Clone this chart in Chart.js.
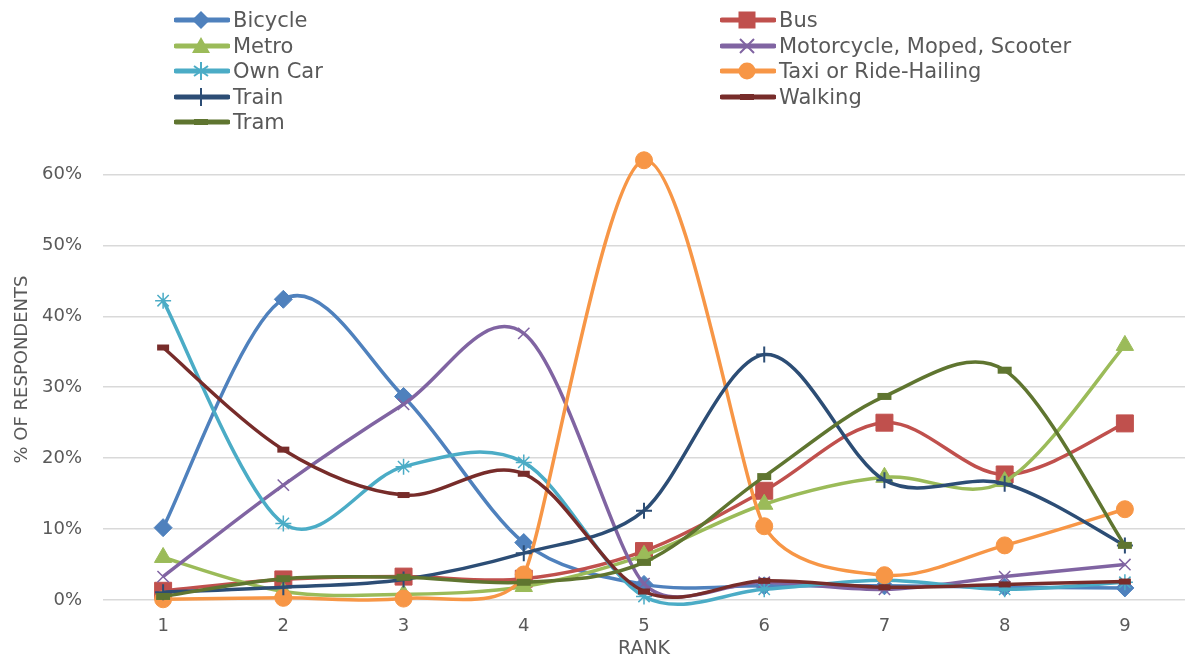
<!DOCTYPE html>
<html>
<head>
<meta charset="utf-8">
<script src="https://cdn.jsdelivr.net/npm/chart.js@4/dist/chart.umd.min.js"></script>
<style>
  html, body { margin: 0; padding: 0; background: #ffffff; overflow: hidden; }
  #wrap { position: relative; width: 1185px; height: 661px; }
  #legend { position: absolute; left: 0; top: 0; width: 1185px; height: 135px;
            font-family: "DejaVu Sans", sans-serif; font-size: 21px; color: #595959; }
  .item { position: absolute; height: 26px; display: flex; align-items: center; white-space: nowrap; }
  .item svg { display: block; margin-right: 3px; }
</style>
</head>
<body>
<div id="wrap">
  <canvas id="chart" width="1185" height="661"></canvas>
  <div id="legend"></div>
</div>
<script>
// Rank positions on the x axis
const ranks = ['1', '2', '3', '4', '5', '6', '7', '8', '9'];

// Share of respondents (%) giving each rank to each mode
const bicycle    = [10.2, 42.4, 28.7,  8.1,  2.2,  2.0,  2.0,  1.8,  1.7];
const bus        = [ 1.3,  2.9,  3.3,  3.0,  6.9, 15.4, 25.0, 17.7, 24.9];
const metro      = [ 6.0,  1.2,  0.8,  1.9,  6.3, 13.5, 17.3, 16.7, 35.9];
const motorcycle = [ 3.3, 16.2, 27.6, 37.6,  2.3,  2.5,  1.5,  3.3,  5.0];
const ownCar     = [42.2, 10.8, 18.8, 19.4,  0.5,  1.5,  2.8,  1.5,  2.5];
const taxi       = [ 0.1,  0.3,  0.2,  3.6, 62.0, 10.4,  3.5,  7.7, 12.8];
const train      = [ 1.1,  1.8,  2.9,  6.6, 12.6, 34.6, 16.9, 16.4,  7.7];
const walking    = [35.6, 21.2, 14.8, 17.8,  1.2,  2.7,  1.8,  2.2,  2.6];
const tram       = [ 0.5,  3.0,  3.2,  2.5,  5.3, 17.4, 28.7, 32.4,  7.7];

// Value axis ticks (%)
const yTicks = [0, 10, 20, 30, 40, 50, 60];

const TEXT = '#595959';
const FONT = '"DejaVu Sans", sans-serif';

const series = [
  { label: 'Bicycle', data: bicycle, color: '#4F81BD', shape: 'rectRot', r: 9, bw: 1 },
  { label: 'Bus', data: bus, color: '#C0504D', shape: 'rect', r: 12, bw: 1 },
  { label: 'Metro', data: metro, color: '#9BBB59', shape: 'triangle', r: 10, bw: 1 },
  { label: 'Motorcycle, Moped, Scooter', data: motorcycle, color: '#8064A2', shape: 'crossRot', r: 8, bw: 1.5 },
  { label: 'Own Car', data: ownCar, color: '#4BACC6', shape: 'star', r: 8, bw: 1.5 },
  { label: 'Taxi or Ride-Hailing', data: taxi, color: '#F79646', shape: 'circle', r: 8.5, bw: 1 },
  { label: 'Train', data: train, color: '#2C4D75', shape: 'cross', r: 8, bw: 2 },
  { label: 'Walking', data: walking, color: '#772C2A', shape: 'line', r: 6, bw: 6 },
  { label: 'Tram', data: tram, color: '#5F7530', shape: 'line', r: 7, bw: 7 }
];

const datasets = series.map((s, i) => ({
  label: s.label,
  data: s.data,
  borderColor: s.color,
  backgroundColor: s.color,
  borderWidth: 3.5,
  tension: 0.4,
  pointStyle: s.shape,
  pointRadius: s.r,
  pointBorderWidth: s.bw,
  pointBorderColor: s.color,
  pointBackgroundColor: s.color,
  pointHoverRadius: s.r,
  clip: false,
  order: series.length - i
}));

// Smoothed lines: bezier handles run parallel to (next - prev) with length
// (next - prev) / 6, shortened when a neighbouring segment is short.
const smoothing = {
  id: 'smoothing',
  beforeDatasetsDraw(chart) {
    chart.data.datasets.forEach((ds, di) => {
      const pts = chart.getDatasetMeta(di).data;
      pts.forEach((p, i) => {
        const prev = pts[i - 1] || p, next = pts[i + 1] || p;
        let tx = (next.x - prev.x) / 6, ty = (next.y - prev.y) / 6;
        const len = Math.hypot(tx, ty);
        const d0 = i > 0 ? Math.hypot(p.x - prev.x, p.y - prev.y) : Infinity;
        const d1 = i < pts.length - 1 ? Math.hypot(next.x - p.x, next.y - p.y) : Infinity;
        const lim = 0.36 * Math.min(d0, d1);
        if (isFinite(lim) && len > lim) { tx *= lim / len; ty *= lim / len; }
        p.cp1x = p.x - tx; p.cp1y = p.y - ty;
        p.cp2x = p.x + tx; p.cp2y = p.y + ty;
      });
    });
  }
};

new Chart(document.getElementById('chart'), {
  type: 'line',
  data: { labels: ranks, datasets },
  plugins: [smoothing],
  options: {
    responsive: false,
    animation: false,
    devicePixelRatio: 1,
    layout: { autoPadding: false, padding: { top: 139, left: 0, right: 0, bottom: 0 } },
    plugins: { legend: { display: false }, tooltip: { enabled: false } },
    scales: {
      x: {
        type: 'category',
        offset: true,
        grid: { display: false, drawTicks: false },
        border: { display: false },
        ticks: { color: TEXT, font: { family: FONT, size: 18 }, padding: 16 },
        title: { display: true, text: 'RANK', color: TEXT, font: { family: FONT, size: 19 },
                 padding: { top: 0, bottom: 1 } },
        afterFit: (s) => { s.height = 61; s.paddingLeft = 0; s.paddingRight = 0; }
      },
      y: {
        min: 0,
        max: 65,
        grid: { color: '#d9d9d9', lineWidth: 1.5, drawTicks: false },
        border: { display: false },
        afterBuildTicks: (s) => { s.ticks = yTicks.map(v => ({ value: v })); },
        ticks: { color: TEXT, font: { family: FONT, size: 18 }, padding: 21,
                 callback: (v) => v + '%' },
        title: { display: true, text: '% OF RESPONDENTS', color: TEXT,
                 font: { family: FONT, size: 18 }, padding: { top: 12, bottom: 0 } },
        afterFit: (s) => { s.width = 103; }
      }
    }
  }
});

// Two-column legend above the plot
function markerSvg(s) {
  const c = s.color, cx = 27, cy = 13;
  let m = '';
  switch (s.shape) {
    case 'rectRot':
      m = `<polygon points="${cx},${cy-9} ${cx+9},${cy} ${cx},${cy+9} ${cx-9},${cy}" fill="${c}"/>`; break;
    case 'rect':
      m = `<rect x="${cx-8.5}" y="${cy-8.5}" width="17" height="17" fill="${c}"/>`; break;
    case 'triangle':
      m = `<polygon points="${cx},${cy-9} ${cx+9},${cy+7} ${cx-9},${cy+7}" fill="${c}"/>`; break;
    case 'crossRot':
      m = `<path d="M${cx-7} ${cy-7}L${cx+7} ${cy+7}M${cx+7} ${cy-7}L${cx-7} ${cy+7}" stroke="${c}" stroke-width="2"/>`; break;
    case 'star':
      m = `<path d="M${cx} ${cy-9}V${cy+9}M${cx-7} ${cy-5}L${cx+7} ${cy+5}M${cx+7} ${cy-5}L${cx-7} ${cy+5}" stroke="${c}" stroke-width="2"/>`; break;
    case 'circle':
      m = `<circle cx="${cx}" cy="${cy}" r="8.5" fill="${c}"/>`; break;
    case 'cross':
      m = `<path d="M${cx} ${cy-9}V${cy+9}" stroke="${c}" stroke-width="2"/>`; break;
    default:
      m = `<rect x="${cx-7}" y="${cy-3}" width="14" height="6" fill="${c}"/>`;
  }
  return `<svg width="56" height="26" viewBox="0 0 56 26">` +
         `<line x1="2" y1="${cy}" x2="54" y2="${cy}" stroke="${c}" stroke-width="5" stroke-linecap="round"/>` +
         m + `</svg>`;
}

const legendCols = [174, 720];
const legendRows = [20, 46, 71, 97, 122];
const legendEl = document.getElementById('legend');
series.forEach((s, i) => {
  const div = document.createElement('div');
  div.className = 'item';
  div.style.left = legendCols[i % 2] + 'px';
  div.style.top = (legendRows[Math.floor(i / 2)] - 13) + 'px';
  div.innerHTML = markerSvg(s) + '<span>' + s.label + '</span>';
  legendEl.appendChild(div);
});
</script>
</body>
</html>
